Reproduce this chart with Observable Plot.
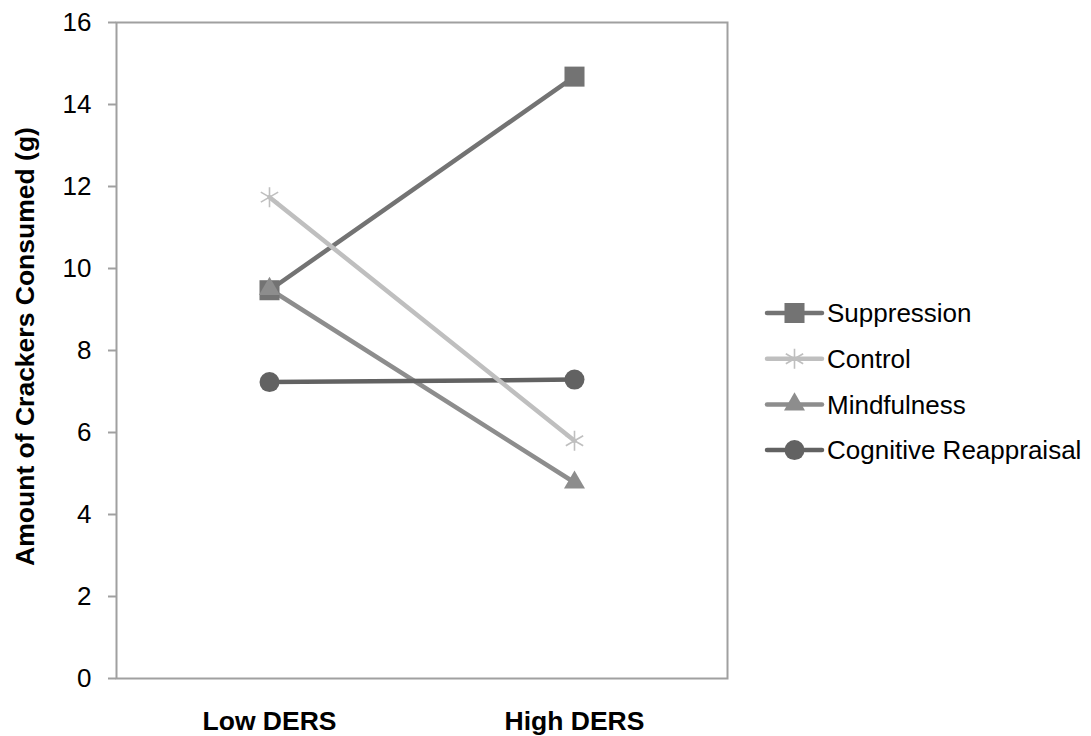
<!DOCTYPE html>
<html>
<head>
<meta charset="utf-8">
<script src="https://cdn.jsdelivr.net/npm/d3@7"></script>
<script src="https://cdn.jsdelivr.net/npm/@observablehq/plot@0.6"></script>
<style>
  html, body { margin: 0; padding: 0; background: #fff; }
  #wrap { position: relative; width: 1091px; height: 736px; font-family: "Liberation Sans", Arial, sans-serif; }
  #legend { position: absolute; left: 0; top: 0; }
</style>
</head>
<body>
<div id="wrap"></div>
<script>
// ---- data ----
const categories = ["Low DERS", "High DERS"];
const seriesNames = ["Suppression", "Control", "Mindfulness", "Cognitive Reappraisal"];
const suppression = [9.47, 14.68];
const control = [11.74, 5.80];
const mindfulness = [9.50, 4.78];
const cognitive = [7.23, 7.29];
const yTicks = [0, 2, 4, 6, 8, 10, 12, 14, 16];
const yLabel = "Amount of Crackers Consumed (g)";

// ---- styles ----
const colors = {
  "Suppression": "#737373",
  "Control": "#bfbfbf",
  "Mindfulness": "#8d8d8d",
  "Cognitive Reappraisal": "#626262"
};
const symbols = {
  "Suppression": "square",
  "Control": "asterisk",
  "Mindfulness": "triangle",
  "Cognitive Reappraisal": "circle"
};
const radii = {
  "Suppression": 11.3,
  "Control": 9.5,
  "Mindfulness": 7.8,
  "Cognitive Reappraisal": 10
};
const drawOrder = ["Suppression", "Mindfulness", "Cognitive Reappraisal", "Control"];

const valuesBySeries = {
  "Suppression": suppression,
  "Control": control,
  "Mindfulness": mindfulness,
  "Cognitive Reappraisal": cognitive
};
const rows = seriesNames.flatMap(s => categories.map((c, i) => ({series: s, cat: c, value: valuesBySeries[s][i]})));

const marks = [
  Plot.frame({stroke: "#a0a0a0", strokeWidth: 2}),
  Plot.axisY({ticks: yTicks, tickSize: 8, tickPadding: 17, stroke: "#a0a0a0", strokeWidth: 2, fontSize: 26, label: null}),
  Plot.axisX({tickSize: 0, tickPadding: 33, fontSize: 26.5, fontWeight: "bold", label: null}),
  Plot.text([yLabel], {frameAnchor: "left", textAnchor: "middle", lineAnchor: "middle", rotate: -90, dx: -91, dy: -4, fontWeight: "bold", fontSize: 26.5, fill: "black"})
];
for (const s of drawOrder) {
  marks.push(Plot.line(rows.filter(d => d.series === s), {x: "cat", y: "value", stroke: colors[s], strokeWidth: 4.5}));
}
for (const s of drawOrder) {
  const sym = symbols[s];
  const opts = {x: "cat", y: "value", symbol: sym, r: radii[s]};
  if (sym === "asterisk") { opts.stroke = colors[s]; opts.strokeWidth = 1.6; opts.fill = "none"; }
  else { opts.fill = colors[s]; opts.stroke = "none"; }
  marks.push(Plot.dot(rows.filter(d => d.series === s), opts));
}

const chart = Plot.plot({
  width: 1091,
  height: 736,
  marginLeft: 116,
  marginRight: 364,
  marginTop: 22,
  marginBottom: 58,
  style: {fontFamily: "'Liberation Sans', Arial, sans-serif", color: "black", background: "white", overflow: "visible"},
  x: {type: "point", domain: categories, padding: 0.5},
  y: {domain: [0, 16]},
  marks
});
document.getElementById("wrap").appendChild(chart);

// ---- legend (HTML overlay) ----
const leg = d3.select("#wrap").append("svg")
  .attr("id", "legend").attr("width", 1091).attr("height", 736);
const rowY0 = 313, rowStep = 45.7, lx0 = 767, lx1 = 822, mx = 794.5;
seriesNames.forEach((s, i) => {
  const y = rowY0 + i * rowStep;
  const g = leg.append("g");
  g.append("line").attr("x1", lx0).attr("x2", lx1).attr("y1", y).attr("y2", y)
    .attr("stroke", colors[s]).attr("stroke-width", 4.5).attr("stroke-linecap", "round");
  const sym = {square: d3.symbolSquare, asterisk: d3.symbolAsterisk, triangle: d3.symbolTriangle, circle: d3.symbolCircle}[symbols[s]];
  const size = radii[s] * radii[s] * Math.PI;
  const p = g.append("path").attr("d", d3.symbol(sym, size)()).attr("transform", `translate(${mx},${y})`);
  if (symbols[s] === "asterisk") p.attr("fill", "none").attr("stroke", colors[s]).attr("stroke-width", 1.6);
  else p.attr("fill", colors[s]);
  g.append("text").attr("x", 827).attr("y", y + 9.3).attr("font-size", 26)
    .attr("font-family", "'Liberation Sans', Arial, sans-serif").attr("fill", "black").text(s);
});
</script>
</body>
</html>
